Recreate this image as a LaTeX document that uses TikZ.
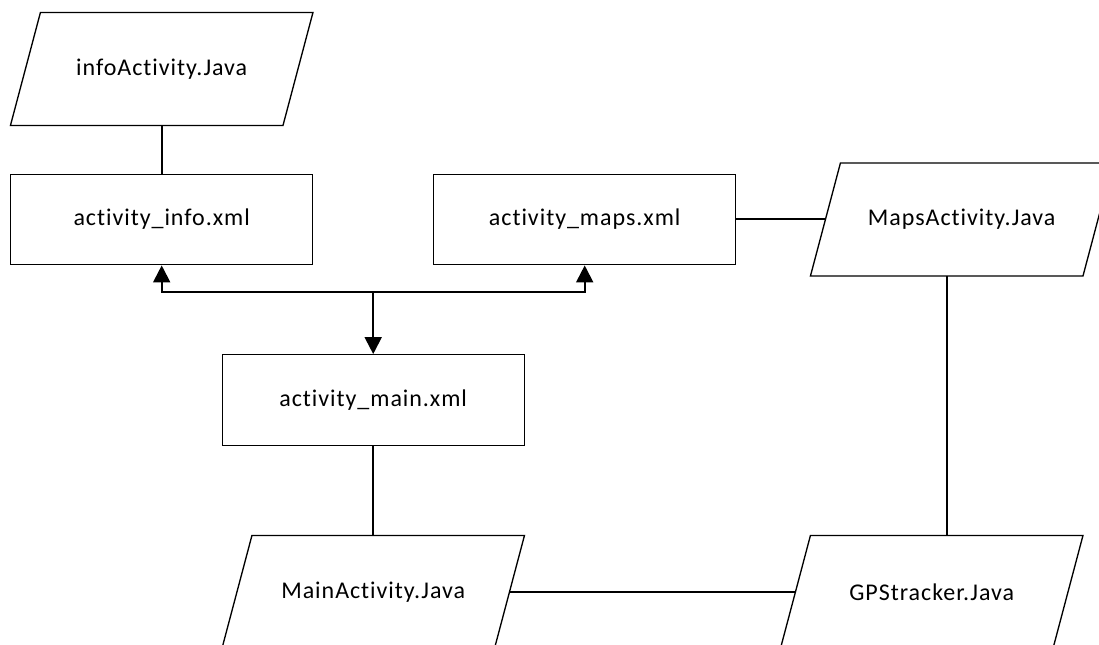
\documentclass[tikz,border=0pt]{standalone}
\usepackage{fontspec}
\setmainfont{Carlito}[Ligatures=NoCommon, LetterSpace=4]
\usetikzlibrary{arrows.meta,calc}

\tikzset{
  label font/.style={font=\fontsize{18pt}{21pt}\selectfont},
  filebox/.style={draw, line width=1pt, minimum width=226.5pt, minimum height=67.9pt,
                  inner sep=0pt, label font},
  iobox/.style={minimum width=204pt, minimum height=84.4pt, inner sep=0pt, label font},
  outline/.style={line width=1pt, line join=miter},
  link/.style={line width=1.5pt},
  arrowlink/.style={line width=1.5pt, -{Triangle[width=12.75pt,length=12.75pt]}}
}

% slanted input/output outline around a node
\newcommand\slantbox[1]{%
  \draw[outline] ($(#1.north west)+(15,0)$) -- ($(#1.north east)+(15,0)$)
    -- ($(#1.south east)+(-15,0)$) -- ($(#1.south west)+(-15,0)$) -- cycle;}

\begin{document}
\begin{tikzpicture}[x=0.75pt, y=-0.75pt]
  \useasboundingbox (0,0) rectangle (1099,645);
  \clip (0,0) rectangle (1099,645);

  % source files
  \node[iobox] (info) at (161.7,69) {infoActivity.Java};
  \node[iobox] (maps) at (961.7,219.5) {MapsActivity.Java};
  \node[iobox] (main) at (373.2,592) {MainActivity.Java};
  \node[iobox] (gps)  at (931.7,592) {GPStracker.Java};
  \slantbox{info}
  \slantbox{maps}
  \slantbox{main}
  \slantbox{gps}

  % layout files
  \node[filebox] (infobox) at (161.7,219.5) {activity\_info.xml};
  \node[filebox] (mapsbox) at (584.7,219.5) {activity\_maps.xml};
  \node[filebox] (mainbox) at (373.2,400) {activity\_main.xml};

  \coordinate (hub) at (373.2,292.5);

  % navigation between layouts
  \draw[arrowlink] (hub) -| (infobox.south);
  \draw[arrowlink] (hub) -| (mapsbox.south);
  \draw[arrowlink] (hub) -- (mainbox.north);

  % layout to code links
  \draw[link] (infobox.north) -- (infobox.north |- info.south);
  \draw[link] (mapsbox.east) -- (maps.west);
  \draw[link] (mainbox.south) -- (mainbox.south |- main.north);
  \draw[link] (main.east) -- (gps.west);
  \draw[link] ($(maps.south)+(-15,0)$) -- ($(gps.north)+(15,0)$);
\end{tikzpicture}
\end{document}
